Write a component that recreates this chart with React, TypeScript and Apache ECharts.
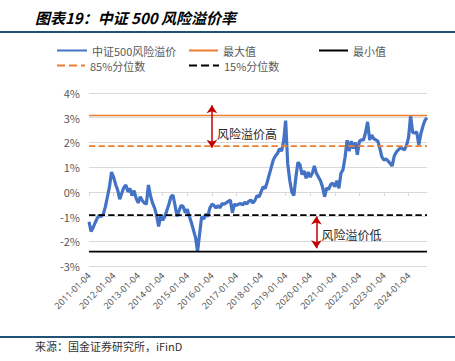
import React, { useEffect, useRef } from 'react';
import * as echarts from 'echarts';

const START_YEAR = 2011;
const MONTH_COUNT = 166;
const CATEGORIES: string[] = [];
for (let i = 0; i < MONTH_COUNT; i++) {
  const y = START_YEAR + Math.floor(i / 12);
  const m = (i % 12) + 1;
  CATEGORIES.push(`${y}-${String(m).padStart(2, '0')}-04`);
}

// monthly CSI 500 risk premium (%)
const PREMIUM: number[] = [
  // 2011
  -1.21, -1.6, -1.45, -1.25, -1.07, -0.95, -1.0, -0.9, -0.6, -0.2, 0.21, 0.8,
  // 2012
  0.6, 0.3, 0.07, -0.3, -0.06, 0.18, 0.28, 0.0, 0.14, -0.15, 0.05, -0.25,
  // 2013
  -0.45, -0.2, -0.35, -0.45, -0.5, 0.28, -0.15, -0.45, -0.65, -0.95, -1.4, -0.95,
  // 2014
  -1.15, -1.0, -0.75, -0.5, -0.2, -0.13, -0.55, -1.0, -0.75, -0.55, -0.6, -0.85,
  // 2015
  -0.7, -1.0, -1.25, -1.55, -1.85, -2.42, -1.7, -1.0, -1.1, -0.9, -1.0, -0.65,
  // 2016
  -0.5, -0.55, -0.65, -0.55, -0.65, -0.47, -0.5, -0.45, -0.38, -0.33, -0.85, -0.5,
  // 2017
  -0.55, -0.5, -0.47, -0.53, -0.42, -0.5, -0.38, -0.33, -0.45, -0.35, -0.15, -0.2,
  // 2018
  0.0, 0.2, 0.14, 0.4, 0.7, 1.0, 1.3, 1.45, 1.55, 1.75, 1.65, 2.05,
  // 2019
  2.88, 1.15, 0.47, 0.0, -0.15, 0.6, 1.2, 1.1, 0.7, 0.85, 0.55, 0.8,
  // 2020
  0.6, 0.75, 1.05, 0.75, 0.6, 0.45, 0.2, -0.2, 0.15, 0.1, 0.3, 0.35,
  // 2021
  0.21, 0.45, 0.14, 0.75, 0.9, 1.4, 2.09, 1.65, 2.05, 1.75, 2.0, 1.5,
  // 2022
  2.05, 2.1, 2.1, 2.4, 2.83, 2.1, 2.3, 2.15, 2.1, 2.05, 1.75, 1.41,
  // 2023
  1.28, 1.34, 1.25, 1.15, 1.05, 1.45, 1.6, 1.7, 1.78, 1.75, 1.7, 1.88,
  // 2024
  2.2, 3.09, 2.4, 2.38, 2.42, 1.9, 2.35, 2.65, 2.9, 3.0,
];

const MAX_VALUE = 3.09;
const MIN_VALUE = -2.42;
const P85_VALUE = 1.85;
const P15_VALUE = -0.94;

const SERIES_NAMES = ['中证500风险溢价', '最大值', '最小值', '85%分位数', '15%分位数'];

const HIGH_ARROW = { category: '2016-01-04', from: 3.5, to: 1.78, labelAt: 2.38, text: '风险溢价高' };
const LOW_ARROW = { category: '2020-04-04', from: -1.0, to: -2.28, labelAt: -1.71, text: '风险溢价低' };

const FONT = '"Noto Sans CJK SC", "Noto Sans", sans-serif';

export default function App() {
  const ref = useRef<HTMLDivElement>(null);
  useEffect(() => {
    if (!ref.current) return;
    const chart = echarts.init(ref.current, null, { renderer: 'svg' });
    const legendText = { fontSize: 11, color: '#595959', fontFamily: FONT };
    const mkLegend = (name: string, left: number, top: number, w: number) => ({
      data: [name], left, top, itemWidth: w, itemHeight: 10, itemGap: 0,
      textStyle: legendText, selectedMode: false,
      itemStyle: { opacity: 0, borderWidth: 0 },
    });
    const constLine = (name: string, value: number, color: string, type: string) => ({
      name, type: 'line', data: CATEGORIES.map(() => value), symbol: 'none',
      lineStyle: { color, width: 1.6, type }, itemStyle: { color }, silent: true,
    });
    chart.setOption({
      animation: false,
      backgroundColor: '#ffffff',
      title: [
        {
          text: '图表19：中证 500 风险溢价率', left: 30, top: 5,
          textStyle: { fontFamily: FONT, fontSize: 15, fontStyle: 'italic', fontWeight: 'bold', color: '#000' },
        },
        {
          text: '来源：国金证券研究所，iFinD', left: 30, top: 335,
          textStyle: { fontFamily: FONT, fontSize: 11, fontWeight: 'normal', color: '#333' },
        },
      ],
      legend: [
        mkLegend(SERIES_NAMES[0], 51, 40, 30),
        mkLegend(SERIES_NAMES[1], 183, 40, 29),
        mkLegend(SERIES_NAMES[2], 313, 40, 29),
        mkLegend(SERIES_NAMES[3], 51, 55, 28),
        mkLegend(SERIES_NAMES[4], 183, 55, 30),
      ],
      graphic: [
        { type: 'line', shape: { x1: 0, y1: 32, x2: 455, y2: 32 }, style: { stroke: '#1f5273', lineWidth: 2 } },
        { type: 'line', shape: { x1: 0, y1: 337, x2: 455, y2: 337 }, style: { stroke: '#1f5273', lineWidth: 2 } },
      ],
      grid: { left: 89, right: 28, top: 93, bottom: 95 },
      xAxis: [
        {
          type: 'category', data: CATEGORIES, boundaryGap: false,
          axisLine: { show: false, onZero: false }, axisTick: { show: false },
          axisLabel: { interval: 11, rotate: 45, fontSize: 9, color: '#595959', margin: 8, fontFamily: '"Noto Sans", sans-serif' },
          splitLine: { show: false },
        },
        {
          type: 'category', data: CATEGORIES, boundaryGap: false, position: 'bottom',
          axisLine: { show: true, onZero: true, lineStyle: { color: '#d9d9d9' } },
          axisTick: { show: true, interval: 11, length: 4, lineStyle: { color: '#d9d9d9' } },
          axisLabel: { show: false }, splitLine: { show: false },
        },
      ],
      yAxis: {
        type: 'value', min: -3, max: 4, interval: 1,
        axisLabel: { formatter: '{value}%', fontSize: 11, color: '#595959', margin: 9, fontFamily: FONT },
        splitLine: { lineStyle: { color: '#d9d9d9', width: 1 } },
        axisLine: { show: false }, axisTick: { show: false },
      },
      series: [
        {
          name: SERIES_NAMES[0], type: 'line', data: PREMIUM, symbol: 'none',
          lineStyle: { color: '#4472c4', width: 3.2 }, itemStyle: { color: '#4472c4' },
          markLine: {
            silent: true, symbol: ['arrow', 'arrow'], symbolSize: 8,
            lineStyle: { color: '#c00000', width: 1.5, type: 'solid' },
            label: { show: false },
            data: [
              [{ coord: [HIGH_ARROW.category, HIGH_ARROW.from] }, { coord: [HIGH_ARROW.category, HIGH_ARROW.to] }],
              [{ coord: [LOW_ARROW.category, LOW_ARROW.from] }, { coord: [LOW_ARROW.category, LOW_ARROW.to] }],
            ],
          },
          markPoint: {
            silent: true, symbol: 'circle', symbolSize: 0,
            label: { show: true, position: 'right', distance: 5, fontSize: 12, color: '#262626', fontFamily: FONT },
            data: [
              { coord: [HIGH_ARROW.category, HIGH_ARROW.labelAt], label: { formatter: HIGH_ARROW.text } },
              { coord: [LOW_ARROW.category, LOW_ARROW.labelAt], label: { formatter: LOW_ARROW.text } },
            ],
          },
        },
        constLine(SERIES_NAMES[1], MAX_VALUE, '#ed7d31', 'solid'),
        constLine(SERIES_NAMES[2], MIN_VALUE, '#000000', 'solid'),
        constLine(SERIES_NAMES[3], P85_VALUE, '#ed7d31', 'dashed'),
        constLine(SERIES_NAMES[4], P15_VALUE, '#000000', 'dashed'),
      ],
    });
    return () => chart.dispose();
  }, []);
  return <div ref={ref} style={{ position: 'fixed', left: 0, top: 0, width: 455, height: 361 }} />;
}
